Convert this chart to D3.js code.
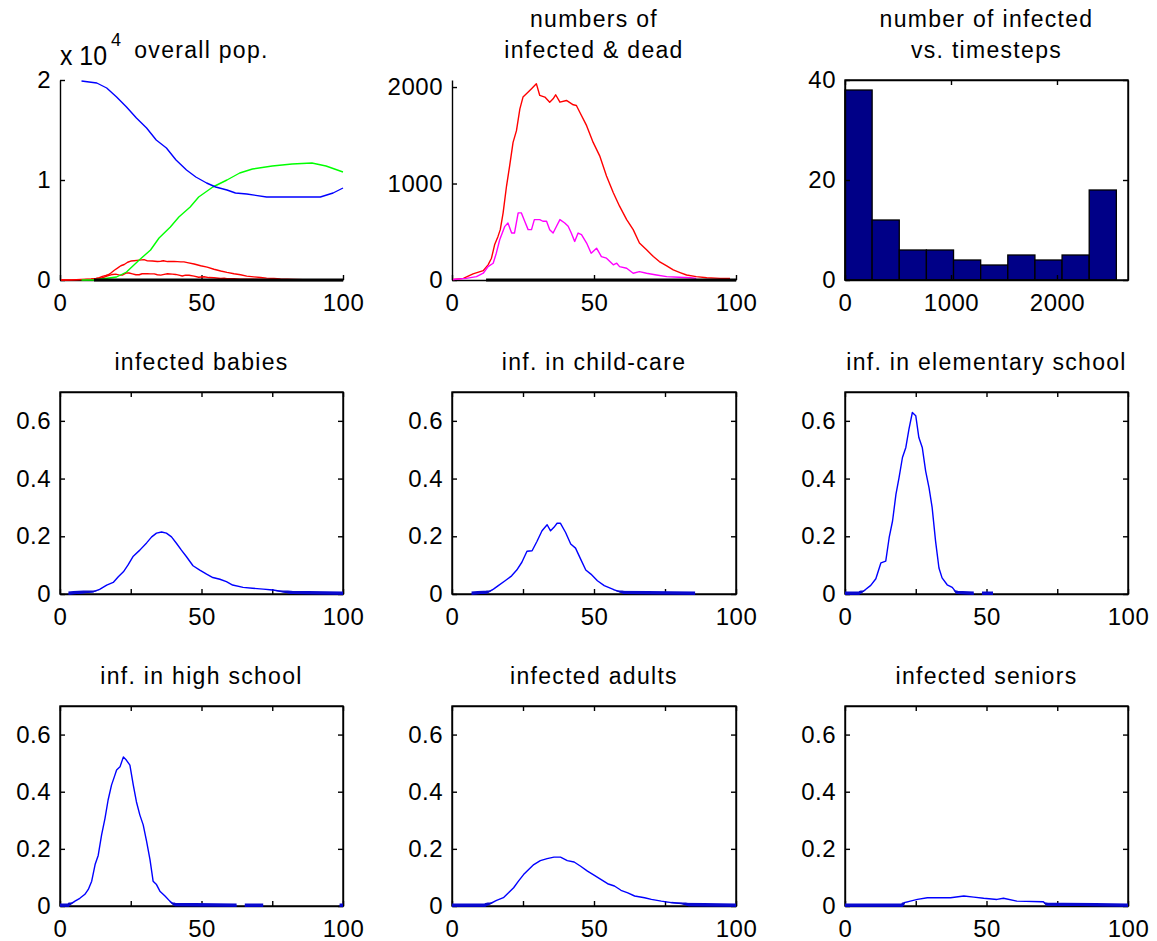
<!DOCTYPE html>
<html><head><meta charset="utf-8">
<script src="https://cdn.jsdelivr.net/npm/d3@7"></script>
<style>
body{margin:0;background:#fff;}
svg text{font-family:"Liberation Sans",Arial,sans-serif;fill:#000;}
</style></head>
<body><svg id="c" width="1157" height="941"></svg>
<script>
// ---------- DATA ----------
const titles = [
  ["overall pop."], ["numbers of","infected & dead"], ["number of infected","vs. timesteps"],
  ["infected babies"], ["inf. in child-care"], ["inf. in elementary school"],
  ["inf. in high school"], ["infected adults"], ["infected seniors"]
];
// overall population (persons) vs timestep
const susceptible = [[7.6,19900],[13,19700],[16.5,19200],[20,18300],[23.5,17300],[27,16200],[30.6,15200],[34,14000],[37.6,13200],[41,12000],[44.7,11000],[48,10300],[51.8,9700],[55,9300],[59,9000],[62,8700],[66,8600],[73,8300],[80,8300],[92,8300],[96.5,8700],[100,9200]];
const recovered = [[7.6,0],[12,0],[20,300],[23.5,800],[28,2000],[32,3000],[35,4200],[39,5300],[42,6300],[46,7300],[49,8300],[54,9300],[59,10000],[63.5,10700],[68,11100],[75,11400],[82,11600],[89,11700],[94,11400],[100,10800]];
// infected and second count (persons) vs timestep
const infected = [[0.4,5],[4,17],[7.4,63],[11,97],[12.7,157],[13.9,226],[15,365],[16.2,452],[17,522],[18,696],[19.2,974],[20.3,1183],[21.5,1426],[22.7,1548],[23.9,1774],[25,1896],[26.2,1930],[28,1983],[29.7,2035],[30.9,1913],[32.7,1896],[34.4,1843],[35.6,1878],[36.5,1920],[38,1843],[40.3,1861],[42.7,1816],[43.8,1809],[45,1739],[47.4,1600],[49.7,1426],[52,1287],[54.4,1078],[56.8,904],[59,765],[61.5,626],[63.8,522],[66,383],[68.5,313],[70.9,243],[73,191],[75.6,146],[77.9,104],[80.3,77],[82.6,52],[86,35],[89.7,24],[94.4,17],[97.9,17]];
const infected2 = [[0.4,5],[5,17],[8.6,35],[11,70],[12.7,139],[14.5,174],[15.6,278],[16.8,417],[18.6,556],[19.7,591],[21,487],[22,487],[23.3,696],[24.4,696],[25.6,609],[26.8,522],[28,522],[29,626],[30.9,626],[32,609],[33.3,609],[34.4,522],[35.6,487],[36.8,557],[38,626],[39.7,591],[40.9,557],[42,487],[43.2,400],[44.4,487],[45.6,470],[47.4,383],[49,278],[50.9,330],[52.6,243],[54.4,226],[56.8,157],[58,174],[59,139],[61.5,122],[63.8,70],[66,87],[68.5,70],[72,52],[75.6,35],[80,28],[84,24],[86,17]];
const dead = [[12,0],[100,0]];
// histogram: counts per bin
const histCenters = [128,384,640,896,1152,1408,1664,1920,2176,2432];
const histCounts = [38,12,6,6,4,3,5,4,5,18];
const histBinWidth = 256;
// infected fractions per age group
const babies = [[3,0],[11.8,0.008],[14,0.016],[16.5,0.031],[18.8,0.04],[20.6,0.06],[22.4,0.077],[24,0.1],[25.9,0.131],[28.2,0.152],[30.6,0.177],[32.4,0.198],[34.1,0.211],[35.9,0.215],[37.6,0.211],[39.4,0.198],[41.2,0.175],[42.9,0.152],[44.7,0.129],[47,0.098],[49.4,0.083],[51.8,0.069],[54,0.057],[56.5,0.051],[58.8,0.043],[61,0.031],[64.7,0.023],[68,0.02],[71.8,0.017],[75.3,0.014],[78.8,0.008],[82,0.002],[100,0]];
const childcare = [[6.9,0],[12.2,0.004],[14.6,0.017],[16.3,0.029],[18.7,0.046],[21,0.063],[22.8,0.083],[24.6,0.11],[26.4,0.148],[28.2,0.15],[29.9,0.182],[31.7,0.219],[33.5,0.24],[34.7,0.219],[35.9,0.231],[37,0.245],[38.2,0.245],[40,0.213],[41.8,0.173],[43.5,0.159],[45.3,0.121],[47.1,0.083],[48.9,0.069],[51.2,0.046],[53.6,0.029],[57.2,0.014],[60.7,0.002],[85.6,0]];
const elementary = [[0,0],[5,0],[6.8,0.012],[9.1,0.03],[10.9,0.053],[12.7,0.108],[14.4,0.114],[15.6,0.195],[16.8,0.253],[18,0.345],[19.1,0.403],[20.3,0.473],[21.5,0.508],[22.6,0.571],[23.8,0.629],[25,0.618],[26.1,0.542],[27.3,0.508],[28.5,0.426],[29.7,0.368],[30.8,0.299],[32,0.183],[33.2,0.09],[34.3,0.056],[36.1,0.032],[37.9,0.023],[39.6,0.002],[45.5,0],[46,null],[48.4,0],[52.3,0]];
const highschool = [[0,0],[3,0],[3.5,0.006],[5.3,0.017],[7,0.027],[8.8,0.041],[10,0.058],[11.2,0.087],[12.4,0.145],[13.5,0.177],[14.7,0.249],[15.9,0.307],[17,0.371],[18.2,0.423],[19.4,0.458],[20,0.476],[21.2,0.487],[22.4,0.522],[23.5,0.51],[24.7,0.493],[25.9,0.423],[27,0.365],[28.2,0.319],[29.4,0.284],[30.6,0.226],[31.8,0.162],[32.9,0.087],[34.1,0.075],[35.3,0.052],[37.1,0.035],[38.8,0.017],[40.6,0.002],[62.4,0],[63,null],[65.3,0],[71.8,0],[72,null],[98.8,0],[100,0]];
const adults = [[0,0],[11.6,0],[13.4,0.008],[15.7,0.02],[18.1,0.029],[19.9,0.046],[21.7,0.064],[23.4,0.087],[25.2,0.11],[27,0.128],[28.8,0.145],[31.1,0.159],[33.5,0.166],[35.9,0.171],[38.2,0.171],[40.6,0.159],[43,0.154],[45.3,0.139],[47.7,0.122],[50,0.108],[52.4,0.093],[54.8,0.078],[57.2,0.07],[59.5,0.055],[61.9,0.046],[64.3,0.035],[67.8,0.029],[70.2,0.023],[73.7,0.017],[77.3,0.012],[80.8,0.009],[83.2,0.002],[100,0]];
const seniors = [[0,0],[20.3,0],[20.9,0.012],[25.6,0.023],[29.1,0.029],[37.3,0.029],[42,0.035],[45.5,0.031],[49,0.027],[53.7,0.023],[56,0.027],[60.7,0.017],[70.1,0.015],[71.3,0.004],[100,0]];
const xTicksTop = [0,50,100];
const xTicksAge = [0,25,50,75,100];
const yTicksAge = [0,0.2,0.4,0.6];

// ---------- LAYOUT ----------
const svg = d3.select("#c");
svg.append("rect").attr("width",1157).attr("height",941).attr("fill","#fff");
const defs = svg.append("defs");
const cols = [[60,343],[452,736],[845,1128]];
const rows = [[80,280],[392,594],[706,906]];
const TF = 23, KF = 24;

function panel(i, xdom, ydom, box){
  const c = cols[i%3], r = rows[Math.floor(i/3)];
  const x = d3.scaleLinear().domain(xdom).range(c);
  const y = d3.scaleLinear().domain(ydom).range([r[1], r[0]]);
  const g = svg.append("g");
  const t = titles[i];
  const cx = (c[0]+c[1])/2;
  t.forEach((s,k)=>{
    g.append("text").attr("x",cx).attr("y", r[0] - 22 - (t.length-1-k)*31)
     .attr("text-anchor","middle").attr("font-size",TF).attr("letter-spacing","1.3px").text(s);
  });
  return {g,x,y,c,r,box,i};
}
function axes(p, xt, yt, xfmt, yfmt){
  const {g,x,y,c,r,box} = p;
  const ax = g.append("g").attr("transform",`translate(0,${r[1]})`)
    .call(d3.axisBottom(x).tickValues(xt).tickSize(-5).tickSizeOuter(0).tickFormat(xfmt));
  const ay = g.append("g").attr("transform",`translate(${c[0]},0)`)
    .call(d3.axisLeft(y).tickValues(yt).tickSize(-5).tickSizeOuter(0).tickPadding(9).tickFormat(yfmt));
  [ax,ay].forEach(a=>{
    a.selectAll("path,line").attr("stroke","#000").attr("stroke-width",1.4);
    a.selectAll("text").attr("font-size",KF).attr("fill","#000").attr("font-family",'"Liberation Sans",Arial,sans-serif').attr("letter-spacing","0.5px");
  });
  ax.selectAll("text").attr("y",31).attr("dy",null);
  if(box){
    const at = g.append("g").attr("transform",`translate(0,${r[0]})`)
      .call(d3.axisTop(x).tickValues(xt).tickSize(-5).tickSizeOuter(0).tickFormat(""));
    const ar = g.append("g").attr("transform",`translate(${c[1]},0)`)
      .call(d3.axisRight(y).tickValues(yt).tickSize(-5).tickSizeOuter(0).tickFormat(""));
    [at,ar].forEach(a=>a.selectAll("path,line").attr("stroke","#000").attr("stroke-width",1.4));
  }
}
function line(p, data, color, w){
  const gen = d3.line().defined(d=>d[1]!==null).x(d=>p.x(d[0])).y(d=>p.y(d[1]));
  p.g.append("path").datum(data).attr("d",gen).attr("fill","none")
    .attr("stroke",color).attr("stroke-width",w||1.4).attr("stroke-linejoin","round");
  return gen;
}

// Panel 1: overall population
const p1 = panel(0,[0,100],[0,20000],false);
axes(p1, xTicksTop, [0,10000,20000], d=>d, d=>d/10000);
line(p1, infected, "#ff0000");
line(p1, infected2, "#ff0000");
line(p1, recovered, "#00ff00");
line(p1, susceptible, "#0000ff");
line(p1, dead, "#000", 3);
p1.g.append("text").attr("x",60).attr("y",65).attr("font-size",27)
  .attr("textLength",47).attr("lengthAdjust","spacingAndGlyphs").text("x 10");
p1.g.append("text").attr("x",111).attr("y",46).attr("font-size",18).text("4");

// Panel 2: infected & dead
const p2 = panel(1,[0,100],[0,2073],false);
axes(p2, xTicksTop, [0,1000,2000], d=>d, d=>d);
line(p2, infected, "#ff0000");
line(p2, infected2, "#ff00ff");
line(p2, dead, "#000", 3);

// Panel 3: histogram
const p3 = panel(2,[0,2670],[0,40],true);
p3.g.selectAll("rect.bar").data(histCenters).join("rect").attr("class","bar")
  .attr("x",d=>p3.x(d-histBinWidth/2)).attr("width",d=>p3.x(d+histBinWidth/2)-p3.x(d-histBinWidth/2))
  .attr("y",(d,i)=>p3.y(histCounts[i])).attr("height",(d,i)=>p3.y(0)-p3.y(histCounts[i]))
  .attr("fill","#000087").attr("stroke","#000").attr("stroke-width",1.3);
axes(p3, [0,1000,2000], [0,20,40], d=>d, d=>d);
p3.g.append("rect").attr("x",p3.c[0]).attr("y",p3.r[0]).attr("width",p3.c[1]-p3.c[0]).attr("height",p3.r[1]-p3.r[0])
  .attr("fill","none").attr("stroke","#000").attr("stroke-width",1.4);

// Age-group panels
const ageSeries = [babies, childcare, elementary, highschool, adults, seniors];
ageSeries.forEach((s,k)=>{
  const p = panel(3+k,[0,100],[0,0.7],true);
  p.g.append("rect").attr("x",p.c[0]).attr("y",p.r[0]).attr("width",p.c[1]-p.c[0]).attr("height",p.r[1]-p.r[0])
    .attr("fill","none").attr("stroke","#000").attr("stroke-width",1.4);
  axes(p, xTicksAge, yTicksAge, d=>d%50===0?d:"", d=>d);
  const gen = line(p, s, "#0000ff");
  // near-zero stretches appear as a heavier band over the axis
  const id = "clipz"+k;
  defs.append("clipPath").attr("id",id).append("rect")
    .attr("x",p.c[0]).attr("y",p.r[1]-2.5).attr("width",p.c[1]-p.c[0]).attr("height",4);
  p.g.append("path").datum(s).attr("d",gen).attr("fill","none").attr("clip-path",`url(#${id})`)
    .attr("stroke","#0a0ad0").attr("stroke-width",3.2).attr("transform","translate(0,-1)");
});
</script></body></html>
